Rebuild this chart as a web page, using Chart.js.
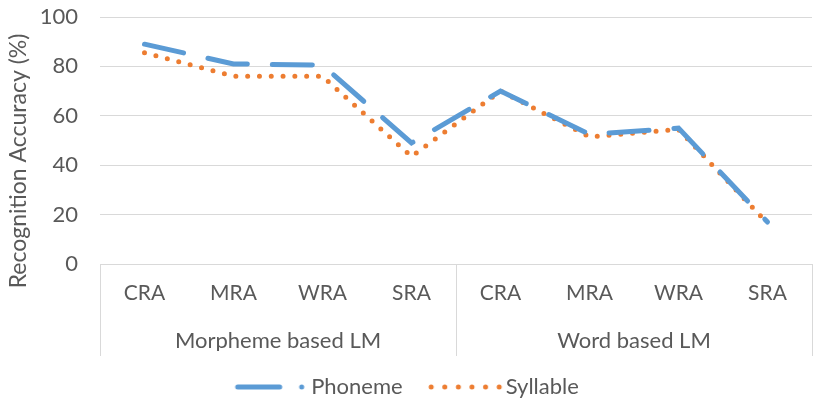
<!DOCTYPE html>
<html>
<head>
<meta charset="utf-8">
<script src="https://cdn.jsdelivr.net/npm/chart.js@4.4.1/dist/chart.umd.min.js"></script>
<style>
  html, body { margin: 0; padding: 0; background: #fff; }
  #wrap { width: 813px; height: 404px; }
</style>
</head>
<body>
<div id="wrap"><canvas id="grafico" width="813" height="404"></canvas></div>
<script>
const categorias = ['CRA', 'MRA', 'WRA', 'SRA', 'CRA', 'MRA', 'WRA', 'SRA'];
const grupos = ['Morpheme based LM', 'Word based LM'];
const phoneme = [89, 81, 80.5, 49, 70, 52.5, 55, 17];
const syllable = [85.5, 76, 76, 43.5, 70, 51.5, 54.5, 16.5];
const yTicks = [0, 20, 40, 60, 80, 100];
const tituloY = 'Recognition Accuracy (%)';

const AZUL = '#5b9bd5';
const NARANJA = '#ed7d31';
const GRIS = '#595959';
const FUENTE = 'Lato, "Open Sans", sans-serif';

// muestras de la leyenda (raya larga + punto / puntos)
function muestra(tipo) {
  const c = document.createElement('canvas');
  c.width = 92; c.height = 10;
  const g = c.getContext('2d');
  g.lineCap = 'round';
  g.lineWidth = 5;
  if (tipo === 'phoneme') {
    g.strokeStyle = AZUL;
    g.beginPath(); g.moveTo(17, 5); g.lineTo(59, 5); g.stroke();
    g.fillStyle = AZUL;
    g.beginPath(); g.arc(81, 5, 2.5, 0, Math.PI * 2); g.fill();
  } else {
    g.fillStyle = NARANJA;
    for (let i = 0; i < 6; i++) {
      g.beginPath(); g.arc(16 + i * 13.6, 5, 2.5, 0, Math.PI * 2); g.fill();
    }
  }
  return c;
}

// lineas separadoras del eje de categorias + titulo del eje Y
const extras = {
  id: 'extras',
  afterDraw(chart) {
    const x = chart.scales.x;
    const ctx = chart.ctx;
    const mitad = (x.getPixelForValue(3) + x.getPixelForValue(4)) / 2;
    ctx.save();
    ctx.strokeStyle = '#d9d9d9';
    ctx.lineWidth = 1;
    [x.left, mitad, x.right].forEach(px => {
      ctx.beginPath();
      ctx.moveTo(Math.round(px) + 0.5, x.top);
      ctx.lineTo(Math.round(px) + 0.5, x.top + 92);
      ctx.stroke();
    });
    ctx.translate(19, 161);
    ctx.rotate(-Math.PI / 2);
    ctx.fillStyle = GRIS;
    ctx.font = '23px ' + FUENTE;
    ctx.textAlign = 'center';
    ctx.textBaseline = 'middle';
    ctx.fillText(tituloY, 0, 0);
    ctx.restore();
  }
};

const ctx = document.getElementById('grafico').getContext('2d');
new Chart(ctx, {
  type: 'line',
  data: {
    labels: categorias,
    datasets: [{
      label: 'Phoneme',
      data: phoneme,
      borderColor: AZUL,
      borderWidth: 5,
      borderDash: [40, 25],
      borderCapStyle: 'round',
      pointRadius: 0,
      tension: 0,
      pointStyle: muestra('phoneme')
    }, {
      label: 'Syllable',
      data: syllable,
      borderColor: NARANJA,
      borderWidth: 5,
      borderDash: [0, 11.8],
      borderCapStyle: 'round',
      pointRadius: 0,
      tension: 0,
      pointStyle: muestra('syllable')
    }]
  },
  plugins: [extras],
  options: {
    responsive: false,
    animation: false,
    layout: { padding: { top: 0, right: 1, left: 0, bottom: -4 } },
    plugins: {
      legend: {
        position: 'bottom',
        labels: {
          usePointStyle: true,
          pointStyleWidth: 67,
          boxHeight: 10,
          color: GRIS,
          font: { family: FUENTE, size: 22 },
          padding: 25
        }
      },
      tooltip: { enabled: false }
    },
    scales: {
      x: {
        offset: true,
        grid: { display: false, drawTicks: false },
        border: { display: true, color: '#d9d9d9' },
        ticks: { color: GRIS, font: { family: FUENTE, size: 21 }, padding: 17, maxRotation: 0, autoSkip: false },
        afterFit: s => { s.height = 53; }
      },
      x2: {
        type: 'category',
        labels: grupos,
        position: 'bottom',
        offset: true,
        grid: { display: false, drawTicks: false },
        border: { display: false },
        ticks: { color: GRIS, font: { family: FUENTE, size: 22 }, padding: 11, maxRotation: 0 },
        afterFit: s => { s.height = 34; }
      },
      y: {
        min: 0,
        max: 100,
        afterBuildTicks: s => { s.ticks = yTicks.map(v => ({ value: v })); },
        grid: { color: '#d9d9d9', drawTicks: false },
        border: { display: false },
        ticks: { color: GRIS, font: { family: FUENTE, size: 22 }, padding: 22 },
        afterFit: s => { s.width = 100; s.paddingTop = 17; s.paddingBottom = 0; }
      }
    }
  }
});
</script>
</body>
</html>
